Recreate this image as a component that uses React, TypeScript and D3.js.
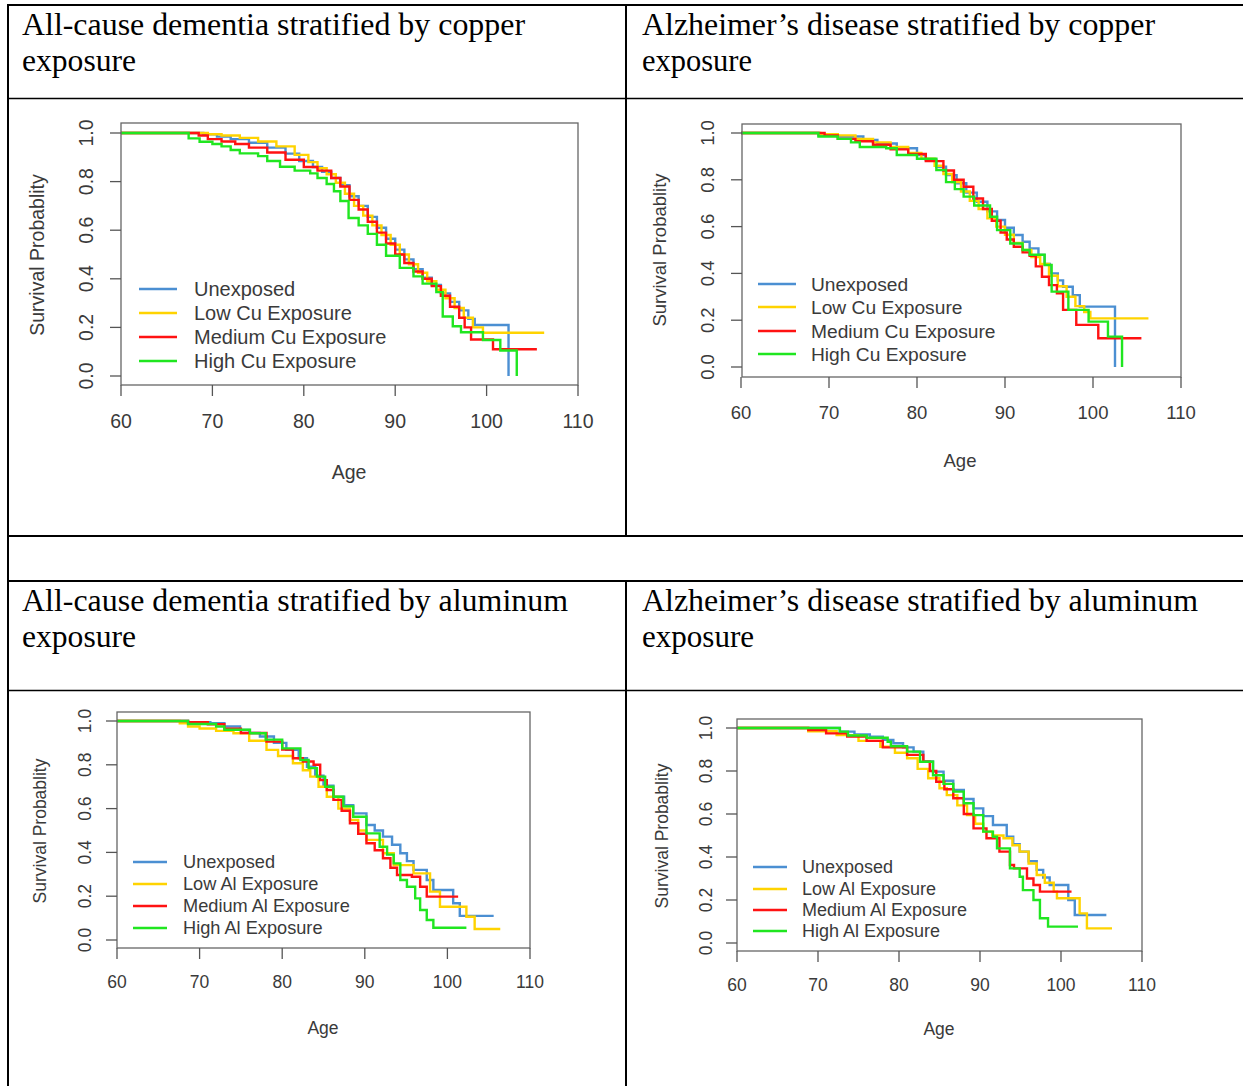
import React from 'react';
import * as d3 from 'd3';

// series labels / colours
const cuNames = ['Unexposed', 'Low Cu Exposure', 'Medium Cu Exposure', 'High Cu Exposure'];
const alNames = ['Unexposed', 'Low Al Exposure', 'Medium Al Exposure', 'High Al Exposure'];
const seriesColors = ['#4b8fd2', '#ffd300', '#ff1212', '#20e620'];
const xTicks = [60, 70, 80, 90, 100, 110];
const yTicks = [0, 0.2, 0.4, 0.6, 0.8, 1.0];
const yTickLabels = ['0.0', '0.2', '0.4', '0.6', '0.8', '1.0'];

// [age, survival]
const acCuUnexposed = [[60, 1], [69, 0.995], [70.5, 0.985], [72, 0.975], [74, 0.96], [76, 0.94], [78, 0.915], [79.5, 0.885], [81, 0.86], [82, 0.84], [83, 0.815], [84, 0.785], [85, 0.74], [86, 0.7], [87, 0.655], [88, 0.61], [89, 0.565], [90, 0.52], [91, 0.48], [92, 0.44], [93, 0.405], [94, 0.375], [95, 0.34], [96, 0.305], [97, 0.27], [98, 0.235], [98.7, 0.21], [102.4, 0]];
const acCuLow = [[60, 1], [69.5, 0.995], [71, 0.99], [73, 0.98], [75, 0.965], [77, 0.945], [79, 0.91], [80.5, 0.88], [81.5, 0.855], [82.5, 0.83], [83.5, 0.795], [84.5, 0.75], [85.5, 0.7], [86.5, 0.66], [87.5, 0.62], [88.5, 0.58], [89.5, 0.54], [90.5, 0.5], [91.5, 0.46], [92.5, 0.425], [93.5, 0.39], [94.5, 0.355], [95.5, 0.32], [96.5, 0.28], [97.5, 0.24], [98.5, 0.2], [99.6, 0.178], [106.3, 0.178]];
const acCuMedium = [[60, 1], [68.5, 0.99], [69.5, 0.975], [71, 0.965], [72.5, 0.955], [74, 0.94], [76, 0.92], [78, 0.89], [80, 0.86], [81.5, 0.845], [83, 0.815], [84, 0.78], [85, 0.725], [86, 0.685], [87, 0.635], [88, 0.59], [89, 0.545], [90, 0.5], [91, 0.465], [92, 0.43], [93, 0.4], [94, 0.37], [95, 0.33], [96, 0.285], [97, 0.24], [97.6, 0.2], [98.3, 0.15], [100.7, 0.11], [105.5, 0.11]];
const acCuHigh = [[60, 1], [67.4, 0.978], [68.6, 0.964], [70, 0.955], [71, 0.945], [72, 0.93], [73, 0.916], [75, 0.905], [76, 0.885], [77.4, 0.861], [79, 0.845], [80.7, 0.834], [81.5, 0.815], [82.5, 0.79], [83.3, 0.76], [84, 0.72], [84.9, 0.65], [86, 0.62], [87, 0.585], [88, 0.54], [89, 0.495], [90.5, 0.445], [92, 0.41], [93, 0.38], [94.5, 0.345], [95.2, 0.245], [96.3, 0.205], [97.2, 0.18], [99.6, 0.148], [101.5, 0.105], [103.3, 0]];

const adCuUnexposed = [[60, 1], [68.8, 0.99], [71, 0.985], [73.9, 0.97], [75.5, 0.955], [77.7, 0.935], [80, 0.906], [81, 0.885], [82.2, 0.856], [83.3, 0.82], [84.5, 0.785], [85.6, 0.745], [86.8, 0.706], [88, 0.665], [89.1, 0.628], [90, 0.595], [91, 0.564], [92, 0.535], [92.8, 0.507], [93.8, 0.479], [94.5, 0.44], [95.1, 0.4], [96, 0.37], [96.6, 0.343], [97.7, 0.307], [98.5, 0.258], [102.5, 0]];
const adCuLow = [[60, 1], [69, 0.995], [71, 0.99], [73, 0.975], [75, 0.96], [77, 0.94], [79, 0.915], [80.5, 0.89], [82, 0.86], [83, 0.825], [84, 0.79], [85, 0.75], [86, 0.71], [87, 0.675], [88, 0.635], [89, 0.6], [90, 0.565], [91, 0.53], [92, 0.5], [93, 0.47], [94, 0.44], [95, 0.39], [96, 0.345], [97, 0.3], [98, 0.26], [99, 0.235], [99.7, 0.208], [106.3, 0.208]];
const adCuMedium = [[60, 1], [69.5, 0.99], [71, 0.975], [73, 0.965], [75, 0.95], [77, 0.93], [79, 0.91], [81, 0.88], [83, 0.84], [84.2, 0.8], [85.3, 0.77], [86.4, 0.72], [87.5, 0.675], [88.5, 0.625], [89.5, 0.575], [90.2, 0.545], [91, 0.514], [92, 0.49], [92.8, 0.475], [93.5, 0.43], [94.2, 0.386], [95, 0.35], [95.9, 0.315], [96.6, 0.244], [98.1, 0.18], [100.6, 0.123], [105.5, 0.123]];
const adCuHigh = [[60, 1], [68.8, 0.985], [71, 0.975], [72.5, 0.96], [73.5, 0.94], [76.5, 0.935], [77.7, 0.906], [80, 0.89], [82.2, 0.842], [83.3, 0.79], [84.3, 0.76], [85.3, 0.728], [86.5, 0.69], [88.3, 0.642], [89.1, 0.585], [90.6, 0.528], [92, 0.5], [92.8, 0.48], [94.5, 0.436], [95.3, 0.322], [97.2, 0.244], [99.5, 0.194], [101.7, 0.13], [103.3, 0]];

const acAlUnexposed = [[60, 1], [68.6, 0.995], [71.3, 0.99], [73, 0.975], [74.9, 0.959], [76, 0.945], [77.3, 0.929], [79, 0.9], [80.5, 0.868], [82, 0.83], [83, 0.791], [84, 0.75], [85, 0.705], [86.2, 0.654], [87.5, 0.615], [88.6, 0.578], [90.2, 0.525], [91.2, 0.5], [92.2, 0.472], [93.3, 0.435], [94.3, 0.396], [95.1, 0.36], [95.9, 0.32], [97.5, 0.274], [98.3, 0.228], [100.7, 0.168], [101.5, 0.11], [105.6, 0.11]];
const acAlLow = [[60, 1], [67.6, 0.99], [68.6, 0.975], [70, 0.966], [72, 0.955], [74.1, 0.944], [76, 0.91], [78.1, 0.868], [79.5, 0.84], [81.3, 0.807], [82.5, 0.775], [83.4, 0.746], [84.4, 0.7], [85.4, 0.654], [86.8, 0.6], [88.2, 0.548], [89.2, 0.5], [90.2, 0.457], [92.2, 0.396], [93.5, 0.342], [95.9, 0.304], [97.9, 0.221], [99.1, 0.152], [102.3, 0.106], [103.3, 0.05], [106.4, 0.05]];
const acAlMedium = [[60, 1], [68.6, 0.995], [71, 0.985], [73, 0.965], [75, 0.945], [78.1, 0.906], [80, 0.87], [81.3, 0.83], [82.5, 0.815], [83.8, 0.8], [84.6, 0.73], [85.4, 0.685], [86.2, 0.64], [87.2, 0.59], [88.2, 0.533], [89.2, 0.485], [90.2, 0.442], [91.2, 0.41], [92.2, 0.373], [93.1, 0.33], [93.9, 0.297], [95.7, 0.289], [96.7, 0.243], [97.5, 0.198], [101.3, 0.198]];
const acAlHigh = [[60, 1], [68.6, 0.986], [72, 0.975], [73, 0.96], [76.1, 0.944], [78, 0.915], [80, 0.875], [82.2, 0.822], [83.2, 0.785], [84.2, 0.746], [85.2, 0.7], [86.2, 0.654], [87.4, 0.61], [88.6, 0.563], [90.2, 0.487], [91.8, 0.426], [92.7, 0.39], [93.5, 0.35], [94.3, 0.274], [95.1, 0.243], [96.1, 0.19], [96.7, 0.137], [97.5, 0.091], [98.3, 0.056], [102.3, 0.056]];

const adAlUnexposed = [[60, 1], [72.7, 0.983], [74.5, 0.97], [76.4, 0.96], [78, 0.945], [79.3, 0.929], [80.5, 0.91], [81.8, 0.89], [83, 0.845], [84.2, 0.797], [85.5, 0.755], [86.7, 0.712], [88, 0.67], [89.2, 0.626], [90.4, 0.59], [91.6, 0.549], [93.3, 0.494], [94.1, 0.46], [94.9, 0.425], [96, 0.38], [97, 0.34], [97.8, 0.305], [98.6, 0.27], [100.9, 0.2], [101.7, 0.13], [105.6, 0.13]];
const adAlLow = [[60, 1], [68.8, 0.985], [72.3, 0.967], [75, 0.94], [77.7, 0.913], [79.5, 0.885], [81, 0.859], [82.3, 0.81], [83.6, 0.766], [85, 0.72], [85.9, 0.688], [87.2, 0.64], [88.4, 0.595], [89.4, 0.555], [90.4, 0.518], [91.5, 0.5], [92.9, 0.487], [94, 0.455], [94.9, 0.425], [96, 0.37], [97, 0.316], [98, 0.28], [99.1, 0.239], [99.5, 0.208], [102.3, 0.138], [103.2, 0.068], [106.3, 0.068]];
const adAlMedium = [[60, 1], [68.8, 0.99], [71, 0.975], [73.6, 0.96], [76, 0.94], [78, 0.91], [81, 0.875], [83, 0.843], [83.8, 0.8], [84.6, 0.75], [85.6, 0.715], [86.7, 0.673], [88, 0.6], [89.2, 0.533], [90.8, 0.487], [92.4, 0.425], [93.7, 0.363], [94.2, 0.347], [95.8, 0.3], [96.6, 0.27], [97.4, 0.239], [101.3, 0.239]];
const adAlHigh = [[60, 1], [72.7, 0.983], [73.7, 0.965], [76, 0.955], [78.6, 0.936], [79, 0.915], [81, 0.89], [82.6, 0.843], [84.2, 0.78], [85.5, 0.74], [86.7, 0.704], [88, 0.65], [89.2, 0.595], [90.4, 0.518], [91.6, 0.494], [92.1, 0.44], [93.4, 0.44], [93.7, 0.347], [94.9, 0.308], [95.3, 0.246], [96.6, 0.2], [97.4, 0.115], [98.4, 0.076], [102.1, 0.076]];

const headers = [
  ['All-cause dementia stratified by copper', 'exposure'],
  ['Alzheimer\u2019s disease stratified by copper', 'exposure'],
  ['All-cause dementia stratified by aluminum', 'exposure'],
  ['Alzheimer\u2019s disease stratified by aluminum', 'exposure'],
];

// layout of each panel (pixels)
const panels = [
  {
    series: [acCuUnexposed, acCuLow, acCuMedium, acCuHigh], names: cuNames,
    box: [121, 578, 123, 385], x: [121, 578], y: [376, 133], font: 19.5, legendFont: 20,
    xTickY: 421, yTickX: 86, yLab: [37, 255], xLab: [349, 472],
    legend: { x1: 139, x2: 177, tx: 194, ys: [289, 313, 337, 361] },
  },
  {
    series: [adCuUnexposed, adCuLow, adCuMedium, adCuHigh], names: cuNames,
    box: [742, 1181, 124, 377], x: [741, 1181], y: [367, 133], font: 18.5, legendFont: 19.2,
    xTickY: 412, yTickX: 707, yLab: [659, 250], xLab: [960, 460],
    legend: { x1: 758, x2: 796, tx: 811, ys: [284, 307, 331, 354] },
  },
  {
    series: [acAlUnexposed, acAlLow, acAlMedium, acAlHigh], names: alNames,
    box: [117, 530, 712, 948], x: [117, 530], y: [940, 721], font: 17.5, legendFont: 18.2,
    xTickY: 982, yTickX: 85, yLab: [40, 831], xLab: [323, 1028],
    legend: { x1: 133, x2: 167, tx: 183, ys: [862, 884, 906, 928] },
  },
  {
    series: [adAlUnexposed, adAlLow, adAlMedium, adAlHigh], names: alNames,
    box: [737, 1142, 719, 951], x: [737, 1142], y: [943, 728], font: 17.5, legendFont: 18,
    xTickY: 985, yTickX: 706, yLab: [662, 836], xLab: [939, 1029],
    legend: { x1: 753, x2: 787, tx: 802, ys: [867, 889, 910, 931] },
  },
];

const headerPos = [
  { x: 22, ys: [35, 71], w: [503, 114] },
  { x: 642, ys: [35, 71], w: [513, 110] },
  { x: 22, ys: [611, 647], w: [546, 114] },
  { x: 642, ys: [611, 647], w: [556, 112] },
];

const sans = '"Liberation Sans", Arial, sans-serif';
const serif = '"Liberation Serif", "Times New Roman", serif';

const Panel = ({ p }) => {
  const xs = d3.scaleLinear().domain([60, 110]).range(p.x);
  const ys = d3.scaleLinear().domain([0, 1]).range(p.y);
  const line = d3.line().x((d) => xs(d[0])).y((d) => ys(d[1])).curve(d3.curveStepAfter);
  const [bx0, bx1, by0, by1] = p.box;
  return (
    <g fontFamily={sans} fill="#3a3a3a">
      {p.series.map((s, i) => (
        <path key={i} d={line(s)} fill="none" stroke={seriesColors[i]} strokeWidth={2.4} />
      ))}
      <rect x={bx0} y={by0} width={bx1 - bx0} height={by1 - by0} fill="none" stroke="#666" strokeWidth={1.3} />
      {xTicks.map((t) => (
        <g key={t}>
          <line x1={xs(t)} x2={xs(t)} y1={by1} y2={by1 + 11} stroke="#555" strokeWidth={1.3} />
          <text x={xs(t)} y={p.xTickY} textAnchor="middle" dominantBaseline="central" fontSize={p.font}>{t}</text>
        </g>
      ))}
      {yTicks.map((t, i) => (
        <g key={t}>
          <line x1={bx0 - 11} x2={bx0} y1={ys(t)} y2={ys(t)} stroke="#555" strokeWidth={1.3} />
          <text transform={`translate(${p.yTickX},${ys(t)}) rotate(-90)`} textAnchor="middle"
            dominantBaseline="central" fontSize={p.font}>{yTickLabels[i]}</text>
        </g>
      ))}
      <text transform={`translate(${p.yLab[0]},${p.yLab[1]}) rotate(-90)`} textAnchor="middle"
        dominantBaseline="central" fontSize={p.font}>Survival Probablity</text>
      <text x={p.xLab[0]} y={p.xLab[1]} textAnchor="middle" dominantBaseline="central" fontSize={p.font}>Age</text>
      {p.names.map((n, i) => (
        <g key={n}>
          <line x1={p.legend.x1} x2={p.legend.x2} y1={p.legend.ys[i]} y2={p.legend.ys[i]}
            stroke={seriesColors[i]} strokeWidth={2.4} />
          <text x={p.legend.tx} y={p.legend.ys[i]} dominantBaseline="central" fontSize={p.legendFont}>{n}</text>
        </g>
      ))}
    </g>
  );
};

export default function App() {
  return (
    <div style={{ position: 'absolute', left: 0, top: 0 }}>
      <svg width={1243} height={1086} style={{ display: 'block', background: '#fff' }}>
        {/* table rules */}
        <g stroke="#000" strokeWidth={2}>
          <line x1={7} x2={1243} y1={5} y2={5} />
          <line x1={8} x2={8} y1={4} y2={1086} />
          <line x1={626} x2={626} y1={4} y2={536} />
          <line x1={626} x2={626} y1={581} y2={1086} />
          <line x1={7} x2={1243} y1={98.5} y2={98.5} strokeWidth={1.5} />
          <line x1={7} x2={1243} y1={536} y2={536} />
          <line x1={7} x2={1243} y1={581} y2={581} />
          <line x1={7} x2={1243} y1={690.5} y2={690.5} strokeWidth={1.5} />
        </g>
        {headers.map((h, i) => (
          <g key={i} fontFamily={serif} fontSize={32} fill="#000">
            {h.map((t, j) => (
              <text key={j} x={headerPos[i].x} y={headerPos[i].ys[j]} textLength={headerPos[i].w[j]}
                lengthAdjust="spacingAndGlyphs">{t}</text>
            ))}
          </g>
        ))}
        {panels.map((p, i) => <Panel key={i} p={p} />)}
      </svg>
    </div>
  );
}
